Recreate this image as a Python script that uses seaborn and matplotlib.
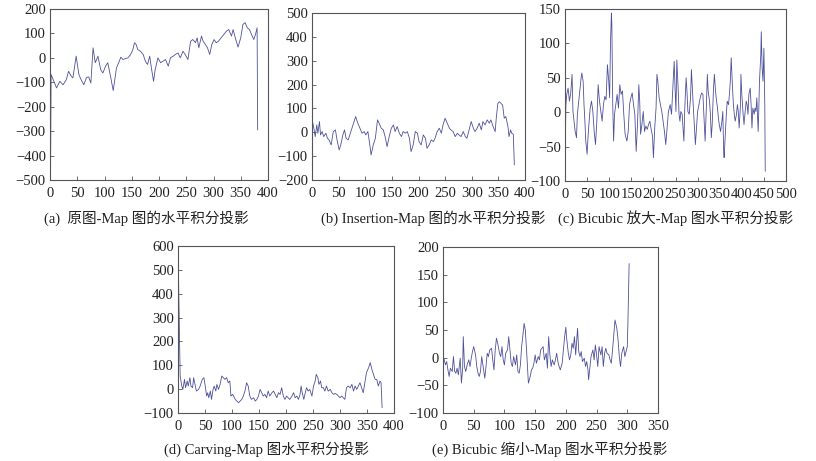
"""
Horizontal integral projection of the Map images (five panels).
"""
import seaborn as sns
import matplotlib.pyplot as plt

# (a) original Map
a_x = [1, 2, 12, 18, 24, 30, 34, 39, 42, 48, 53, 57, 62, 67, 71, 75, 79, 83, 88, 93,
       97, 102, 106, 111, 116, 122, 126, 130, 134, 138, 143, 148, 152, 155, 158, 161,
       166, 171, 175, 179, 183, 186, 190, 193, 198, 203, 207, 212, 217, 221, 226, 230,
       235, 239, 244, 248, 253, 258, 262, 267, 270, 273, 278, 281, 285, 289, 293, 297,
       301, 305, 309, 314, 319, 324, 328, 333, 336, 340, 345, 350, 354, 358, 362, 366,
       371, 374, 377, 380, 381]
a_y = [-480, -68, -123, -96, -110, -89, -55, -75, -82, 7, -68, -89, -110, -80, -78,
       -103, 41, -20, 7, -48, -62, -34, -20, -75, -134, -41, -20, 3, -7, -3, 0, 14, 34,
       62, 55, 34, 27, 14, -14, -27, 7, -41, -96, -48, 0, -20, -14, -7, -34, 0, 7, 14,
       20, 0, 27, 14, -7, 68, 75, 62, 82, 41, 89, 68, 55, 41, 14, 55, 75, 62, 68, 82,
       96, 110, 116, 89, 116, 82, 44, 82, 137, 144, 123, 116, 89, 75, 96, 123, -295]

# (b) Insertion-Map
b_x = [0.5, 1, 4, 6, 9, 11, 14, 16, 19, 22, 26, 29, 32, 36, 40, 44, 47, 51, 54, 58, 61,
       64, 68, 71, 75, 79, 82, 86, 90, 94, 98, 101, 105, 109, 111, 115, 119, 123, 126,
       130, 134, 138, 141, 145, 149, 153, 156, 160, 164, 168, 171, 175, 179, 183, 186,
       190, 194, 198, 201, 205, 209, 213, 216, 220, 224, 228, 231, 235, 239, 243, 246,
       250, 254, 258, 261, 265, 269, 273, 276, 280, 284, 288, 291, 295, 299, 303, 306,
       310, 314, 318, 321, 325, 329, 333, 336, 340, 344, 346, 349, 352, 355, 358, 361,
       364, 368, 370, 373, 375, 378, 380]
b_y = [480, 45, 10, -18, 31, -4, 45, -11, 3, -18, -4, -25, -32, -53, 3, 10, -32, -74,
       -53, -11, 10, -25, -32, -11, 17, 45, 66, 38, 17, -4, 3, -11, 3, -60, -95, -53,
       -25, 52, 38, 17, 10, -25, -60, -18, 17, 31, 3, 24, -4, -18, 3, -4, 3, -25, -81,
       -53, 3, -4, -39, -53, -11, -25, -67, -53, -32, -39, -25, 3, 17, -4, 31, 59, 38,
       17, 10, 3, -18, -4, -11, -18, 3, -18, -25, 10, 45, 17, 3, 17, 38, 10, 45, 31, 52,
       38, 52, 24, 3, 59, 121, 128, 121, 114, 59, 66, 24, -18, 10, -4, -8, -137]

# (c) Bicubic enlarged Map
c_x = [0, 1, 2, 4, 7, 10, 13, 16, 18, 20, 23, 26, 28, 31, 34, 36, 38, 41, 43, 45, 47,
       50, 52, 54, 57, 60, 63, 66, 69, 72, 75, 78, 81, 84, 87, 90, 93, 96, 99, 101, 103,
       105, 106, 108, 110, 112, 115, 118, 121, 124, 127, 130, 133, 136, 140, 143, 146,
       149, 152, 155, 158, 161, 164, 167, 169, 171, 174, 177, 180, 183, 186, 189, 192,
       195, 198, 200, 203, 206, 208, 210, 213, 216, 219, 222, 225, 228, 231, 234, 238,
       241, 244, 247, 249, 251, 253, 256, 258, 260, 262, 265, 267, 269, 271, 274, 276,
       278, 281, 284, 286, 288, 290, 293, 295, 297, 300, 303, 306, 309, 312, 315, 317,
       320, 322, 324, 327, 329, 331, 333, 336, 338, 340, 342, 345, 347, 349, 352, 355,
       357, 359, 360, 363, 365, 367, 370, 372, 374, 376, 379, 381, 383, 385, 388, 390,
       392, 394, 397, 398, 400, 403, 405, 407, 410, 412, 414, 416, 419, 421, 423, 425,
       428, 430, 432, 434, 437, 438, 440, 443, 444, 446, 448, 450, 452, 453]
c_y = [40, -35, 11, 26, 35, 16, 28, 55, 1, -11, -28, -37, -3, 16, 35, 47, 57, 45, 11,
       -13, -42, -61, -37, -18, 6, 16, 1, -28, -47, -13, 40, 16, 1, -13, 11, 23, 18, 69,
       45, 21, 103, 144, 127, 11, -42, -3, 11, 26, 6, 40, 26, 31, -3, -32, -42, -28, 11,
       21, 28, 11, -3, -57, -18, 40, 16, -32, -18, 1, -28, -20, -25, -18, -13, -25, -35,
       -66, -23, 6, 55, 45, 21, 11, 1, -13, -28, -47, -23, 1, 11, -3, 35, 74, 35, 1, 76,
       35, -3, -13, 1, -3, -23, -42, 6, 50, 30, 1, -3, 21, 62, 35, 11, -23, -47, -28, 1,
       11, 21, 28, 26, -13, -42, 11, 55, 30, 16, -3, -37, -18, 35, 55, 35, 21, 6, -8,
       -18, -28, -13, 1, -57, -66, -28, -3, 16, 11, 26, 45, 79, 35, 11, -3, -13, -3, 11,
       1, -23, 11, 55, 26, -3, -18, -3, 16, 11, -3, 26, 35, 11, -23, 6, -3, 6, 1, 21,
       -28, -8, 45, 84, 117, 64, 45, 93, 11, -86]

# (d) Carving-Map
d_x = [0.5, 1.5, 4, 7, 9, 12, 14, 17, 19, 22, 24, 27, 29, 32, 34, 38, 41, 45, 48, 50, 53,
       55, 57, 60, 62, 65, 67, 70, 72, 75, 78, 81, 84, 87, 90, 93, 96, 98, 101, 103, 106,
       109, 112, 115, 118, 121, 124, 127, 130, 133, 136, 140, 143, 146, 149, 152, 155,
       158, 161, 164, 167, 170, 174, 177, 180, 183, 186, 189, 192, 195, 198, 201, 204,
       207, 211, 214, 217, 220, 223, 226, 228, 230, 233, 235, 238, 241, 244, 248, 251,
       254, 256, 259, 261, 264, 266, 269, 272, 275, 278, 282, 285, 288, 291, 294, 297,
       300, 303, 306, 309, 312, 315, 319, 322, 325, 328, 331, 334, 337, 340, 343, 346,
       349, 353, 356, 359, 362, 365, 368, 371, 374, 376, 378]
d_y = [545, 390, 55, 13, -1, 41, 6, 34, 13, 48, 13, 6, 48, 13, -8, -1, 13, 41, 48, 20,
       -29, -15, -36, -8, -43, -1, 13, -8, 20, -1, 20, 55, 48, 41, 48, 27, 34, -29, -22,
       -29, -43, -50, -57, -50, -43, -29, -8, 27, 13, -29, -43, -36, -50, -43, -29, -1,
       -15, -29, -22, -36, -8, -29, -15, -8, -22, -36, -15, -22, 6, -29, -43, -29, -36,
       -43, -29, -15, -36, -29, -43, -22, 13, -15, -43, -22, 6, -8, -1, -29, 13, 34, 62,
       48, 20, 34, 6, 6, -8, 13, -8, -1, -15, -22, -18, -22, -29, -36, -29, -36, -43, 6,
       13, 6, 20, -8, 13, -1, 13, 27, 6, -15, 27, 69, 90, 111, 83, 62, 41, 41, 13, 34,
       27, -78]

# (e) Bicubic reduced Map
e_x = [0.5, 1, 2, 4, 6, 8, 10, 12, 15, 17, 19, 21, 23, 25, 28, 30, 32, 33, 35, 37, 40,
       42, 44, 46, 48, 50, 53, 55, 57, 59, 61, 63, 66, 68, 70, 72, 74, 76, 79, 81, 83,
       85, 87, 89, 92, 94, 96, 98, 100, 102, 105, 107, 109, 111, 113, 115, 118, 120,
       122, 124, 126, 128, 131, 132, 134, 136, 138, 139, 142, 144, 146, 148, 150, 152,
       155, 157, 159, 161, 163, 165, 168, 170, 172, 174, 176, 178, 181, 183, 185, 187,
       189, 191, 194, 196, 198, 200, 201, 204, 206, 208, 210, 212, 214, 216, 219, 221,
       223, 225, 227, 230, 232, 234, 236, 237, 239, 241, 244, 246, 248, 250, 252, 254,
       257, 259, 261, 263, 265, 267, 270, 272, 274, 276, 278, 280, 283, 285, 287, 289,
       291, 294, 296, 298, 300, 301, 303]
e_y = [135, 0, -4, -13, -7, -22, -34, -19, -25, 2, -25, -28, -19, -31, -1, -46, -19,
       38, -16, -25, -10, -4, -16, -1, 11, 20, 5, -16, -28, -34, -25, 2, -22, -37, -16,
       8, 2, 14, 17, -4, -22, 14, 35, 26, 8, 2, 20, -4, -13, 8, 14, 38, 14, -10, -16, 2,
       -13, 5, -25, -28, -13, 20, 50, 62, 50, 14, -28, -46, -34, -22, -19, -10, 5, -10,
       2, -4, 14, 17, 20, -4, 8, -19, 38, 5, -16, -4, -13, -4, 8, -7, -16, -22, -10, 14,
       38, 55, 38, 8, -4, 5, 26, 17, 38, 5, 53, 11, 2, 11, -7, -1, -16, -7, -22, -40,
       -19, 2, 14, -4, 23, 5, -16, 20, 5, 20, -16, 8, 17, 8, 5, -4, -10, 14, 41, 68, 53,
       32, 2, -16, 8, 20, 2, 11, 20, 62, 170]

panels = [
    ("(a)  原图-Map 图的水平积分投影", a_x, a_y, (0, 400, 50), (-500, 200, 100)),
    ("(b) Insertion-Map 图的水平积分投影", b_x, b_y, (0, 400, 50), (-200, 500, 100)),
    ("(c) Bicubic 放大-Map 图水平积分投影", c_x, c_y, (0, 500, 50), (-100, 150, 50)),
    ("(d) Carving-Map 图水平积分投影", d_x, d_y, (0, 400, 50), (-100, 600, 100)),
    ("(e) Bicubic 缩小-Map 图水平积分投影", e_x, e_y, (0, 350, 50), (-100, 200, 50)),
]

# axes boxes in pixels: left, top, right, bottom ; caption centre x, y
boxes = [
    (50, 9, 268, 180, 146, 218),
    (312, 13, 525, 180, 433, 218),
    (565, 9, 786, 181, 676, 218),
    (178, 246, 394, 413, 267, 449),
    (443, 247, 658, 413, 550, 449),
]

W, H = 816, 461
line_color = "#4d519a"

sns.set_theme(style="white")
plt.rcParams["font.family"] = ["Liberation Serif", "Noto Sans CJK SC", "DejaVu Sans"]

fig = plt.figure(figsize=(W / 100, H / 100), dpi=100)

for (caption, xs, ys, xt, yt), (l, t, r, b, cx, cy) in zip(panels, boxes):
    ax = fig.add_axes([l / W, 1 - b / H, (r - l) / W, (b - t) / H])
    sns.lineplot(x=xs, y=ys, ax=ax, color=line_color, linewidth=0.6,
                 estimator=None, sort=False)
    ax.set_xlim(xt[0], xt[1])
    ax.set_ylim(yt[0], yt[1])
    ax.set_xticks(range(xt[0], xt[1] + 1, xt[2]))
    ax.set_yticks(range(yt[0], yt[1] + 1, yt[2]))
    ax.tick_params(axis="both", direction="in", length=3, width=0.6,
                   labelsize=10.5, pad=3, colors="#555555", labelcolor="#222222",
                   bottom=True, left=True, top=False, right=False)
    ax.tick_params(axis="x", pad=5)
    for s in ax.spines.values():
        s.set_color("#555555")
        s.set_linewidth(0.8)
    ax.set_xlabel("")
    ax.set_ylabel("")
    fig.text(cx / W, 1 - cy / H, caption, ha="center", va="center",
             fontsize=10.5, color="#222222")

plt.savefig("out.png", dpi=100)
